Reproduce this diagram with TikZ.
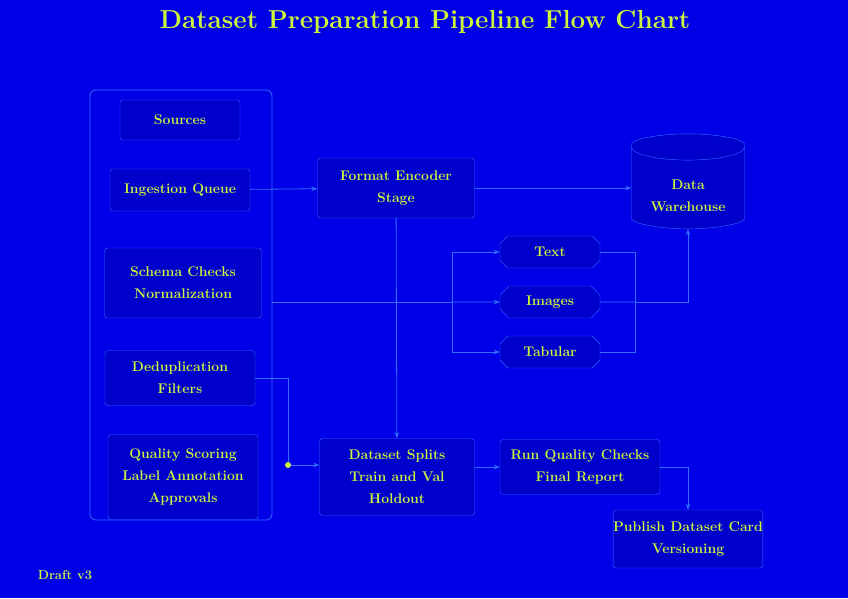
\documentclass[tikz,border=0pt]{standalone}
\usetikzlibrary{positioning,arrows.meta,shapes.geometric,shapes.misc}
\definecolor{bgblue}{RGB}{0,0,232}
\definecolor{boxblue}{RGB}{0,0,205}
\definecolor{edgeblue}{RGB}{50,110,255}
\definecolor{txtyel}{RGB}{205,245,60}

\begin{document}
\begin{tikzpicture}[x=1pt,y=-1pt,
      bx/.style={draw=edgeblue,fill=boxblue,rectangle,rounded corners=3pt,
        text=txtyel,font=\fontsize{14}{22}\selectfont\bfseries,align=center,inner sep=0pt},
      grpbox/.style={draw=edgeblue,rectangle,rounded corners=6pt,line width=0.8pt},
      hexbox/.style={bx,sharp corners,chamfered rectangle,chamfered rectangle xsep=9pt,
        minimum width=100,minimum height=32},
      dbbox/.style={bx,cylinder,shape border rotate=90,aspect=0.35,
        minimum width=113,minimum height=95},
      ln/.style={draw=edgeblue,line width=0.8pt},
      >={Stealth[length=6pt]}]
    % background and frame
    \fill[bgblue] (0,0) rectangle (848,598);
    \useasboundingbox (0,0) rectangle (848,598);
    \node[text=txtyel,font=\fontsize{26}{30}\selectfont\bfseries] (title) at (425,22)
      {Dataset Preparation Pipeline Flow Chart};
    % left column
    \node[grpbox,minimum width=182,minimum height=430] (grp) at (181,305) {};
    \node[bx,minimum width=120,minimum height=40](src)  at (180,120) {Sources};
    \node[bx,minimum width=140,minimum height=42](ing)  at (180,190) {Ingestion Queue};
    \node[bx,minimum width=157,minimum height=70](chk)  at (183,283) {Schema Checks\\Normalization};
    \node[bx,minimum width=150,minimum height=55](ded)  at (180,378) {Deduplication\\Filters};
    \node[bx,minimum width=150,minimum height=85](qual) at (183,477) {Quality Scoring\\Label Annotation\\Approvals};
    % middle and right
    \node[bx,minimum width=157,minimum height=60](feat)  at (396,188) {Format Encoder\\Stage};
    \node[dbbox](store) at (688,188) {\\[4pt]Data\\Warehouse};
    \node[hexbox](hx1) at (550,252) {Text};
    \node[hexbox](hx2) at (550,302) {Images};
    \node[hexbox](hx3) at (550,352) {Tabular};
    \coordinate (fl) at (452,302);
    \coordinate (fr) at (635,302);
    \node[bx,minimum width=155,minimum height=77](split) at (397,477) {Dataset Splits\\Train and Val\\Holdout};
    \node[bx,minimum width=160,minimum height=55](rep1)  at (580,467) {Run Quality Checks\\Final Report};
    \node[bx,minimum width=147,minimum height=58](rep2)  at (688,539) {Publish Dataset Card\\Versioning};
    \node[text=txtyel,font=\fontsize{13}{15}\selectfont\bfseries] (foot) at (65,575) {Draft v3};
    % connectors
    \draw[ln,->](ing)--(feat);\draw[ln,->](feat)--(store);
    \draw[ln,->](feat)--(split);
    \draw[ln](grp.east |- fl)--(fl);
    \draw[ln,->](fl)|-(hx1);\draw[ln,->](fl)--(hx2);\draw[ln,->](fl)|-(hx3);
    \draw[ln](hx1)-|(fr);\draw[ln](hx2)--(fr);\draw[ln](hx3)-|(fr);
    \draw[ln,->](fr)-|(store);
    \coordinate (kn) at (288,465);
    \draw[ln,->](ded.east)-|(kn)--(split.west |- kn);
    \fill[txtyel](kn) circle (3pt);
    \draw[ln,->](split.east |- rep1)--(rep1);
    \draw[ln,->](rep1)-|(rep2);
  \end{tikzpicture}
\end{document}
